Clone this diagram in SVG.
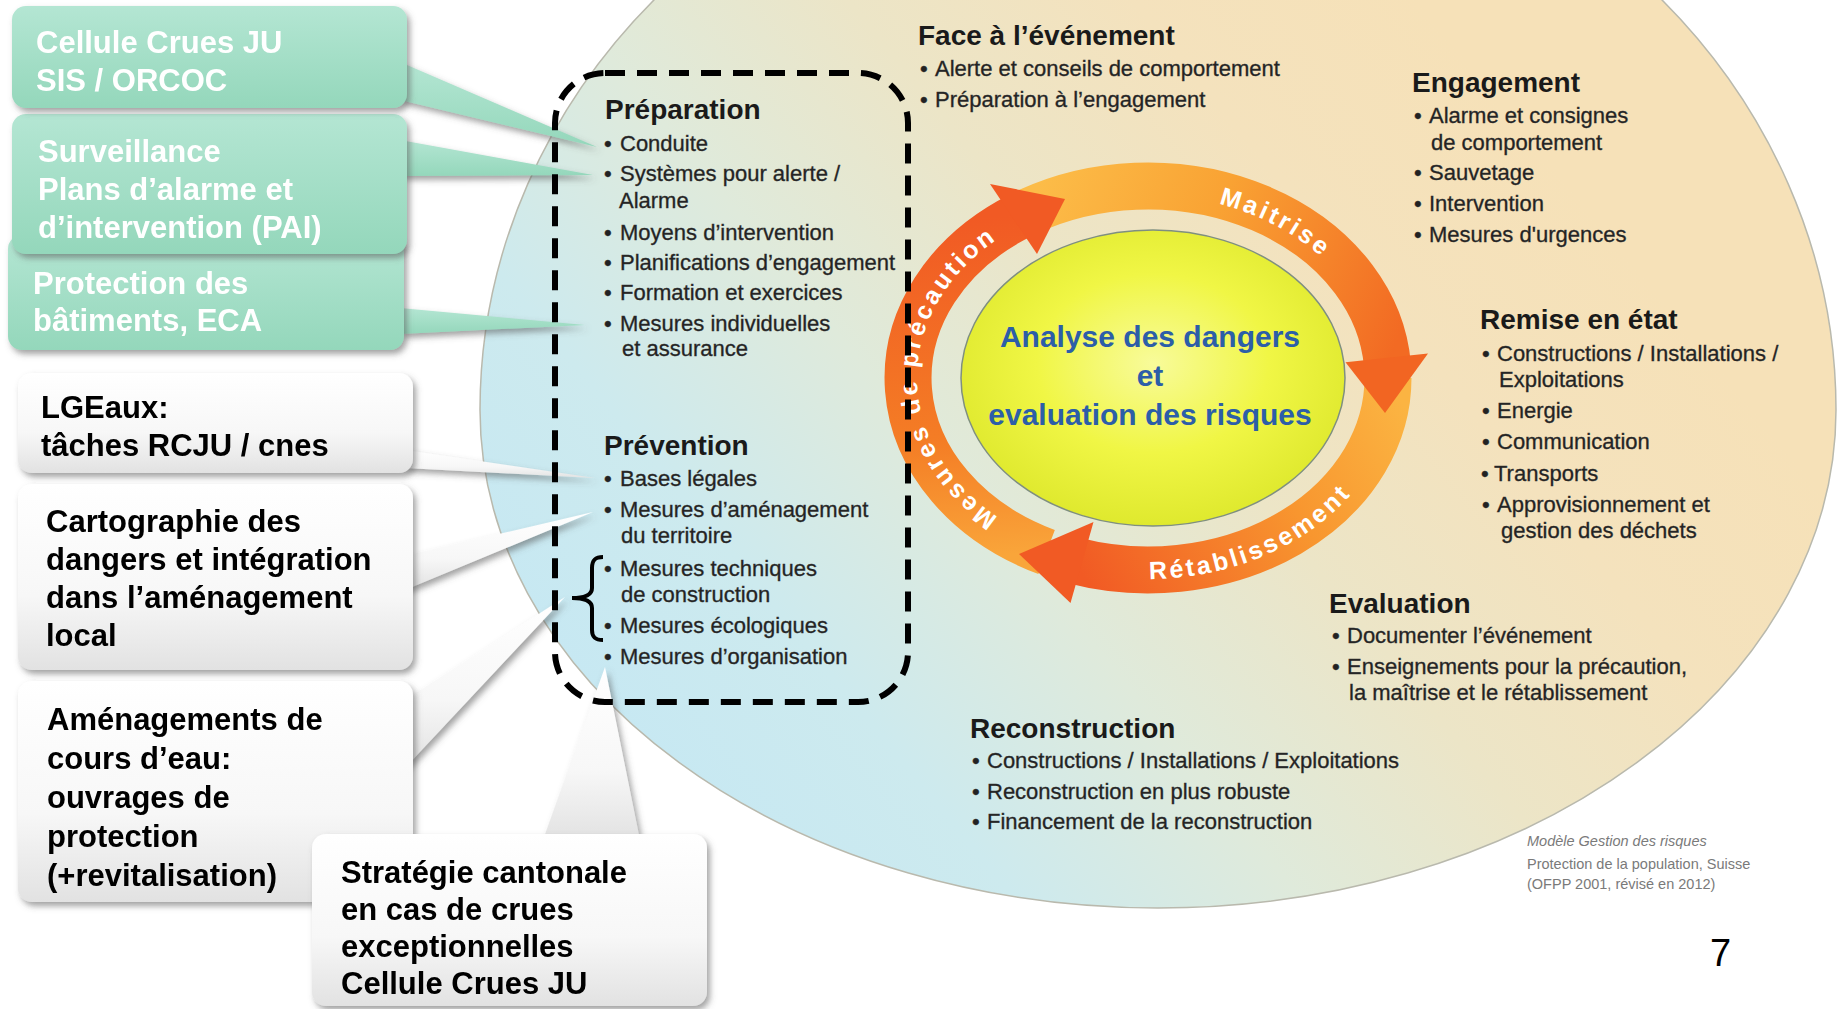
<svg xmlns="http://www.w3.org/2000/svg" width="1843" height="1009" viewBox="0 0 1843 1009">
<style>
.co{font-family:"Liberation Sans",Arial,sans-serif;font-weight:bold;font-size:31px}
.cw{fill:#ffffff}
.ck{fill:#000000}
.h{font-family:"Liberation Sans",Arial,sans-serif;font-weight:bold;font-size:28px;fill:#1a1a1a}
.b{font-family:"Liberation Sans",Arial,sans-serif;font-size:22px;fill:#222222;stroke:#333333;stroke-width:0.35}
.ring{font-family:"Liberation Sans",Arial,sans-serif;font-weight:bold;font-size:25px;fill:#ffffff;letter-spacing:3px}
.ctr{font-family:"Liberation Sans",Arial,sans-serif;font-weight:bold;font-size:30px;fill:#2c5ea8;text-anchor:middle}
.cite{font-family:"Liberation Sans",Arial,sans-serif;font-size:14.5px;fill:#7a7a7a}
.green{fill:url(#gGreen)}
.white{fill:url(#gWhite)}
.arc{fill:none;stroke-width:47}
</style>
<defs>
<linearGradient id="gBg" gradientUnits="userSpaceOnUse" x1="650" y1="800" x2="1500" y2="100">
<stop offset="0" stop-color="#c6e8f3"/><stop offset="0.2" stop-color="#cdeaee"/><stop offset="0.4" stop-color="#dfeadb"/><stop offset="0.6" stop-color="#ece5c7"/><stop offset="0.8" stop-color="#f4e2bd"/><stop offset="1" stop-color="#f6e1b8"/>
</linearGradient>
<linearGradient id="gGreen" x1="0" y1="0" x2="0" y2="1">
<stop offset="0" stop-color="#b4e6d3"/><stop offset="1" stop-color="#94d7bb"/>
</linearGradient>
<linearGradient id="gWhite" x1="0" y1="0" x2="0" y2="1">
<stop offset="0" stop-color="#ffffff"/><stop offset="0.6" stop-color="#f7f7f7"/><stop offset="1" stop-color="#e2e2e2"/>
</linearGradient>
<radialGradient id="gCenter" cx="0.5" cy="0.45" r="0.55">
<stop offset="0" stop-color="#f8fb9a"/><stop offset="0.55" stop-color="#f0f645"/><stop offset="1" stop-color="#dfe92e"/>
</radialGradient>
<linearGradient id="gP" gradientUnits="userSpaceOnUse" x1="1046" y1="552" x2="1021" y2="215">
<stop offset="0" stop-color="#f9a53a"/><stop offset="0.35" stop-color="#f47d25"/><stop offset="1" stop-color="#f15a24"/>
</linearGradient>
<linearGradient id="gM" gradientUnits="userSpaceOnUse" x1="1028" y1="212" x2="1387" y2="365">
<stop offset="0" stop-color="#fcbc48"/><stop offset="0.45" stop-color="#f9a233"/><stop offset="1" stop-color="#f26a23"/>
</linearGradient>
<linearGradient id="gR" gradientUnits="userSpaceOnUse" x1="1388" y1="378" x2="1074" y2="561">
<stop offset="0" stop-color="#fbb442"/><stop offset="0.4" stop-color="#f8962f"/><stop offset="1" stop-color="#f15a24"/>
</linearGradient>
<filter id="sh" x="-10%" y="-10%" width="125%" height="130%">
<feDropShadow dx="3" dy="4" stdDeviation="3" flood-color="#555555" flood-opacity="0.55"/>
</filter>
<path id="tpM" d="M1148,195 A231,183 0 0 1 1365,315.4"/>
<path id="tpR" d="M1042.8,560.2 A249,201 0 0 0 1396.1,395.5"/>
<path id="tpP" d="M1015.5,527.9 A231,183 0 0 1 1015.5,228.1"/>
</defs>
<rect width="1843" height="1009" fill="#ffffff"/>
<g id="background-circle">
<path d="M480,410 A678,613 0 0 1 1836,410 A678,498 0 0 1 480,410 Z" fill="url(#gBg)" stroke="#b9b9ad" stroke-width="1.5"/>
</g>
<g id="cycle">
<path class="arc" stroke="url(#gP)" d="M1046.6,552 A240,192 0 0 1 1020.8,215.2"/>
<path class="arc" stroke="url(#gM)" d="M1028,211.7 A240,192 0 0 1 1387.4,364.6"/>
<path class="arc" stroke="url(#gR)" d="M1388,378 A240,192 0 0 1 1073.8,560.6"/>
<polygon points="990,184 1037,254 1065,199" fill="#f15a24"/>
<polygon points="1428,353.5 1345.5,362.3 1385,413" fill="#f26522"/>
<polygon points="1070.5,603 1093.5,522 1019,554" fill="#f15a24"/>
<text class="ring"><textPath href="#tpM" startOffset="50%" text-anchor="middle">Maitrise</textPath></text>
<text class="ring"><textPath href="#tpR" startOffset="50%" text-anchor="middle">Rétablissement</textPath></text>
<text class="ring"><textPath href="#tpP" startOffset="50%" text-anchor="middle">Mesures de précaution</textPath></text>
</g>
<g id="node-analyse">
<ellipse cx="1153" cy="378" rx="192" ry="148" fill="url(#gCenter)" stroke="#7f8f80" stroke-width="1.5"/>
<text class="ctr" x="1150" y="347">Analyse des dangers</text>
<text class="ctr" x="1150" y="386">et</text>
<text class="ctr" x="1150" y="425">evaluation des risques</text>
</g>
<g id="node-preparation">
<text class="h" x="605" y="119">Préparation</text>
<text class="b"><tspan x="604" y="151">•</tspan><tspan x="620">Conduite</tspan><tspan x="604" y="181">•</tspan><tspan x="620">Systèmes pour alerte /</tspan><tspan x="619" y="208">Alarme</tspan><tspan x="604" y="240">•</tspan><tspan x="620">Moyens d’intervention</tspan><tspan x="604" y="270">•</tspan><tspan x="620">Planifications d’engagement</tspan><tspan x="604" y="300">•</tspan><tspan x="620">Formation et exercices</tspan><tspan x="604" y="331">•</tspan><tspan x="620">Mesures individuelles</tspan><tspan x="622" y="356">et assurance</tspan></text>
</g>
<g id="node-prevention">
<text class="h" x="604" y="455">Prévention</text>
<text class="b"><tspan x="604" y="486">•</tspan><tspan x="620">Bases légales</tspan><tspan x="604" y="517">•</tspan><tspan x="620">Mesures d’aménagement</tspan><tspan x="621" y="543">du territoire</tspan><tspan x="604" y="576">•</tspan><tspan x="620">Mesures techniques</tspan><tspan x="621" y="602">de construction</tspan><tspan x="604" y="633">•</tspan><tspan x="620">Mesures écologiques</tspan><tspan x="604" y="664">•</tspan><tspan x="620">Mesures d’organisation</tspan></text>
</g>
<g id="node-face">
<text class="h" x="918" y="45">Face à l’événement</text>
<text class="b"><tspan x="920" y="76">•</tspan><tspan x="935">Alerte et conseils de comportement</tspan><tspan x="920" y="107">•</tspan><tspan x="935">Préparation à l’engagement</tspan></text>
</g>
<g id="node-engagement">
<text class="h" x="1412" y="92">Engagement</text>
<text class="b"><tspan x="1414" y="123">•</tspan><tspan x="1429">Alarme et consignes</tspan><tspan x="1431" y="150">de comportement</tspan><tspan x="1414" y="180">•</tspan><tspan x="1429">Sauvetage</tspan><tspan x="1414" y="211">•</tspan><tspan x="1429">Intervention</tspan><tspan x="1414" y="242">•</tspan><tspan x="1429">Mesures d'urgences</tspan></text>
</g>
<g id="node-remise">
<text class="h" x="1480" y="329">Remise en état</text>
<text class="b"><tspan x="1482" y="361">•</tspan><tspan x="1497">Constructions / Installations /</tspan><tspan x="1499" y="387">Exploitations</tspan><tspan x="1482" y="418">•</tspan><tspan x="1497">Energie</tspan><tspan x="1482" y="449">•</tspan><tspan x="1497">Communication</tspan><tspan x="1481" y="481">•</tspan><tspan x="1494">Transports</tspan><tspan x="1482" y="512">•</tspan><tspan x="1497">Approvisionnement et</tspan><tspan x="1501" y="538">gestion des déchets</tspan></text>
</g>
<g id="node-evaluation">
<text class="h" x="1329" y="613">Evaluation</text>
<text class="b"><tspan x="1332" y="643">•</tspan><tspan x="1347">Documenter l’événement</tspan><tspan x="1332" y="674">•</tspan><tspan x="1347">Enseignements pour la précaution,</tspan><tspan x="1349" y="700">la maîtrise et le rétablissement</tspan></text>
</g>
<g id="node-reconstruction">
<text class="h" x="970" y="738">Reconstruction</text>
<text class="b"><tspan x="972" y="768">•</tspan><tspan x="987">Constructions / Installations / Exploitations</tspan><tspan x="972" y="799">•</tspan><tspan x="987">Reconstruction en plus robuste</tspan><tspan x="972" y="829">•</tspan><tspan x="987">Financement de la reconstruction</tspan></text>
</g>
<g id="source">
<text class="cite" x="1527" y="846" font-style="italic">Modèle Gestion des risques</text>
<text class="cite" x="1527" y="869">Protection de la population, Suisse</text>
<text class="cite" x="1527" y="889">(OFPP 2001, révisé en 2012)</text>
</g>
<g id="page-number">
<text x="1710" y="966" font-family="Liberation Sans, Arial, sans-serif" font-size="38" fill="#000">7</text>
</g>
<g id="connectors" filter="url(#sh)">
<polygon class="green" points="400,62 597,147 400,100"/>
<polygon class="green" points="400,140 593,175 400,176"/>
<polygon class="green" points="400,308 585,325 400,334"/>
<polygon class="white" points="405,450 595,478 405,468"/>
<polygon class="white" points="405,556 593,512 405,590"/>
<polygon class="white" points="405,700 565,597 405,768"/>
<polygon class="white" points="543,840 605,667 640,840"/>
</g>
<g id="node-protection" filter="url(#sh)">
<rect class="green" x="8" y="235" width="396" height="115" rx="14"/>
<text class="co cw"><tspan x="33" y="294">Protection des</tspan><tspan x="33" y="331">bâtiments, ECA</tspan></text>
</g>
<g id="node-surveillance" filter="url(#sh)">
<rect class="green" x="12" y="114" width="395" height="140" rx="14"/>
<text class="co cw"><tspan x="38" y="162">Surveillance</tspan><tspan x="38" y="200">Plans d’alarme et</tspan><tspan x="38" y="238">d’intervention (PAI)</tspan></text>
</g>
<g id="node-cellule" filter="url(#sh)">
<rect class="green" x="12" y="6" width="395" height="102" rx="14"/>
<text class="co cw"><tspan x="36" y="53">Cellule Crues JU</tspan><tspan x="36" y="91">SIS / ORCOC</tspan></text>
</g>
<g id="node-lgeaux" filter="url(#sh)">
<rect class="white" x="18" y="373" width="395" height="100" rx="14"/>
<text class="co ck"><tspan x="41" y="418">LGEaux:</tspan><tspan x="41" y="456">tâches RCJU / cnes</tspan></text>
</g>
<g id="node-cartographie" filter="url(#sh)">
<rect class="white" x="18" y="484" width="395" height="186" rx="14"/>
<text class="co ck"><tspan x="46" y="532">Cartographie des</tspan><tspan x="46" y="570">dangers et intégration</tspan><tspan x="46" y="608">dans l’aménagement</tspan><tspan x="46" y="646">local</tspan></text>
</g>
<g id="node-amenagements" filter="url(#sh)">
<rect class="white" x="18" y="681" width="395" height="221" rx="14"/>
<text class="co ck"><tspan x="47" y="730">Aménagements de</tspan><tspan x="47" y="769">cours d’eau:</tspan><tspan x="47" y="808">ouvrages de</tspan><tspan x="47" y="847">protection</tspan><tspan x="47" y="886">(+revitalisation)</tspan></text>
</g>
<g id="node-strategie" filter="url(#sh)">
<rect class="white" x="312" y="834" width="395" height="172" rx="14"/>
<text class="co ck"><tspan x="341" y="883">Stratégie cantonale</tspan><tspan x="341" y="920">en cas de crues</tspan><tspan x="341" y="957">exceptionnelles</tspan><tspan x="341" y="994">Cellule Crues JU</tspan></text>
</g>
<g id="dashed-frame">
<rect x="555" y="73" width="353" height="629" rx="50" fill="none" stroke="#000" stroke-width="6" stroke-dasharray="20 12"/>
<path d="M603,557 C595,557 592,560 592,568 L592,588 C592,595 586,598 572,598 C586,598 592,601 592,608 L592,630 C592,637 595,640 603,640" fill="none" stroke="#000" stroke-width="4"/>
</g>
</svg>
